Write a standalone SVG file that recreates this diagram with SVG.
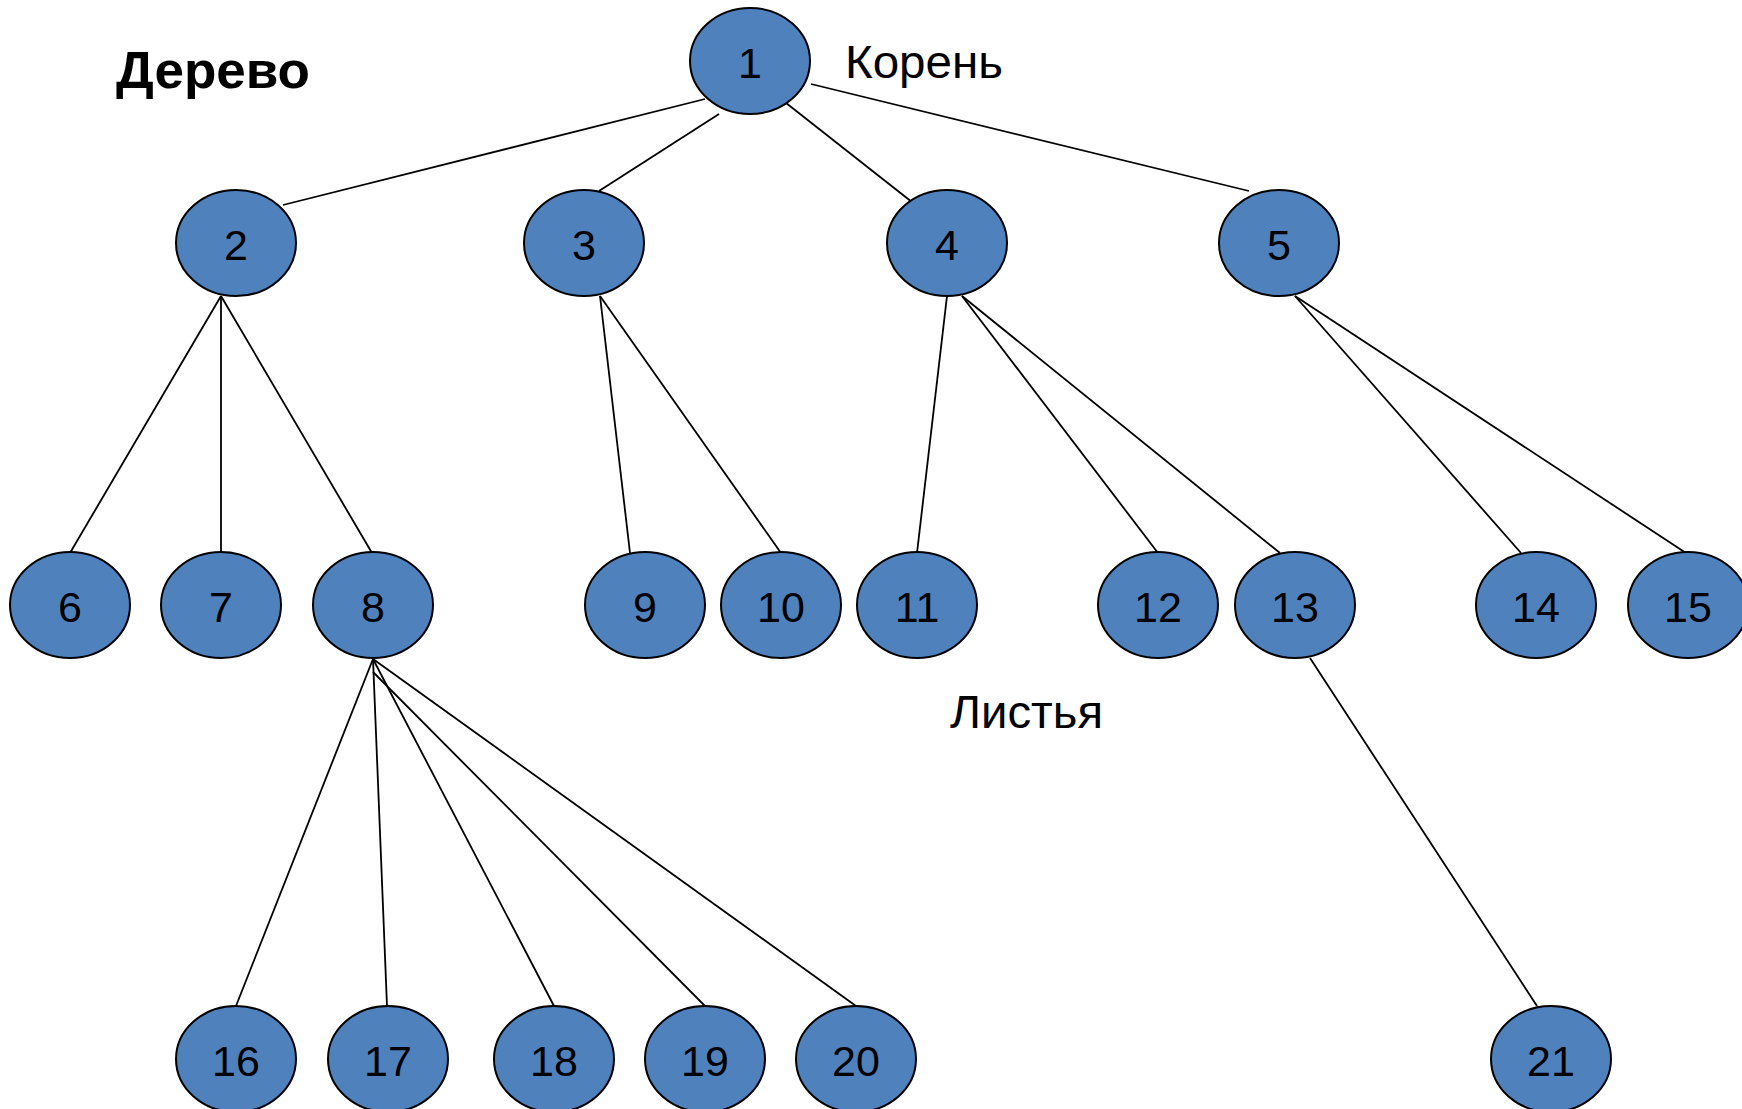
<svg xmlns="http://www.w3.org/2000/svg" width="1742" height="1109" viewBox="0 0 1742 1109">
<style>
.n ellipse{fill:#4F81BD;stroke:#000;stroke-width:2}
.n text{font-family:"Liberation Sans",Arial,sans-serif;font-size:43px;fill:#000;text-anchor:middle}
#edges line{stroke:#000;stroke-width:1.8}
.lbl{font-family:"Liberation Sans",Arial,sans-serif;fill:#000}
</style>
<rect width="1742" height="1109" fill="#fff"/>
<g id="edges">
<line x1="705" y1="99" x2="283" y2="205"/>
<line x1="719" y1="114" x2="599" y2="191"/>
<line x1="781" y1="99" x2="917" y2="206"/>
<line x1="811" y1="84" x2="1249" y2="191"/>
<line x1="221" y1="296" x2="70" y2="553"/>
<line x1="221" y1="296" x2="221" y2="553"/>
<line x1="221" y1="296" x2="372" y2="553"/>
<line x1="600" y1="296" x2="630" y2="553"/>
<line x1="600" y1="296" x2="781" y2="553"/>
<line x1="947" y1="296" x2="917" y2="553"/>
<line x1="962" y1="296" x2="1158" y2="553"/>
<line x1="962" y1="296" x2="1280" y2="553"/>
<line x1="1295" y1="296" x2="1521" y2="553"/>
<line x1="1295" y1="296" x2="1686" y2="553"/>
<line x1="373" y1="659" x2="236" y2="1006"/>
<line x1="373" y1="659" x2="387" y2="1006"/>
<line x1="373" y1="659" x2="554" y2="1006"/>
<line x1="373" y1="672" x2="705" y2="1006"/>
<line x1="373" y1="659" x2="856" y2="1006"/>
<line x1="1310" y1="658" x2="1537" y2="1006"/>
</g>
<text class="lbl" x="116" y="88" font-size="52" font-weight="bold" textLength="194" lengthAdjust="spacingAndGlyphs">Дерево</text>
<text class="lbl" x="845" y="78" font-size="46" textLength="158" lengthAdjust="spacingAndGlyphs">Корень</text>
<text class="lbl" x="950" y="728" font-size="46" textLength="153" lengthAdjust="spacingAndGlyphs">Листья</text>
<g id="n1" class="n"><ellipse cx="750" cy="61" rx="60" ry="53"/><text x="750" y="78">1</text></g>
<g id="n2" class="n"><ellipse cx="236" cy="243" rx="60" ry="53"/><text x="236" y="260">2</text></g>
<g id="n3" class="n"><ellipse cx="584" cy="243" rx="60" ry="53"/><text x="584" y="260">3</text></g>
<g id="n4" class="n"><ellipse cx="947" cy="243" rx="60" ry="53"/><text x="947" y="260">4</text></g>
<g id="n5" class="n"><ellipse cx="1279" cy="243" rx="60" ry="53"/><text x="1279" y="260">5</text></g>
<g id="n6" class="n"><ellipse cx="70" cy="605" rx="60" ry="53"/><text x="70" y="622">6</text></g>
<g id="n7" class="n"><ellipse cx="221" cy="605" rx="60" ry="53"/><text x="221" y="622">7</text></g>
<g id="n8" class="n"><ellipse cx="373" cy="605" rx="60" ry="53"/><text x="373" y="622">8</text></g>
<g id="n9" class="n"><ellipse cx="645" cy="605" rx="60" ry="53"/><text x="645" y="622">9</text></g>
<g id="n10" class="n"><ellipse cx="781" cy="605" rx="60" ry="53"/><text x="781" y="622">10</text></g>
<g id="n11" class="n"><ellipse cx="917" cy="605" rx="60" ry="53"/><text x="917" y="622">11</text></g>
<g id="n12" class="n"><ellipse cx="1158" cy="605" rx="60" ry="53"/><text x="1158" y="622">12</text></g>
<g id="n13" class="n"><ellipse cx="1295" cy="605" rx="60" ry="53"/><text x="1295" y="622">13</text></g>
<g id="n14" class="n"><ellipse cx="1536" cy="605" rx="60" ry="53"/><text x="1536" y="622">14</text></g>
<g id="n15" class="n"><ellipse cx="1688" cy="605" rx="60" ry="53"/><text x="1688" y="622">15</text></g>
<g id="n16" class="n"><ellipse cx="236" cy="1059" rx="60" ry="53"/><text x="236" y="1076">16</text></g>
<g id="n17" class="n"><ellipse cx="388" cy="1059" rx="60" ry="53"/><text x="388" y="1076">17</text></g>
<g id="n18" class="n"><ellipse cx="554" cy="1059" rx="60" ry="53"/><text x="554" y="1076">18</text></g>
<g id="n19" class="n"><ellipse cx="705" cy="1059" rx="60" ry="53"/><text x="705" y="1076">19</text></g>
<g id="n20" class="n"><ellipse cx="856" cy="1059" rx="60" ry="53"/><text x="856" y="1076">20</text></g>
<g id="n21" class="n"><ellipse cx="1551" cy="1059" rx="60" ry="53"/><text x="1551" y="1076">21</text></g>
</svg>
